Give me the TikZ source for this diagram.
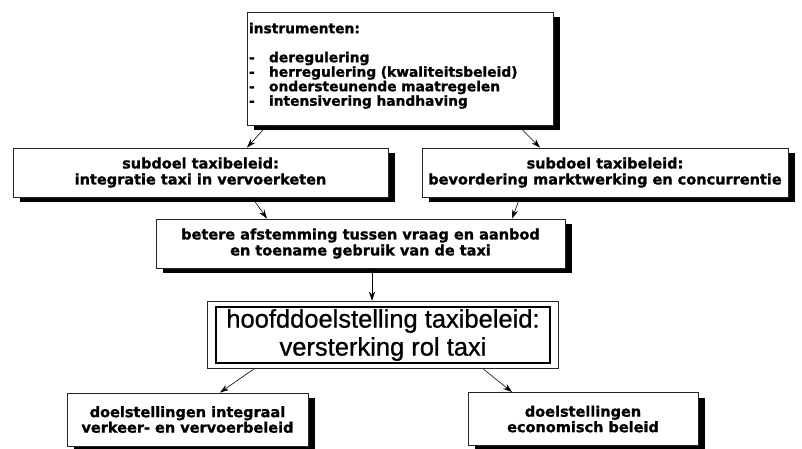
\documentclass[tikz,border=0pt]{standalone}
\usepackage{fontspec}
\setmainfont{DejaVu Sans}[BoldFeatures={FakeBold=1.2}]
\newfontfamily\kopfont{Liberation Sans}[FakeBold=0.8]
\usepackage{tikz}
\usetikzlibrary{arrows.meta, positioning, fit, calc, shadows}
\tikzset{
    shadowed/.style={drop shadow={shadow xshift=7pt, shadow yshift=-5pt,
                     fill=black, opacity=1}},
    ibox/.style={rectangle, draw=black!85, line width=0.9pt, fill=white,
                 shadowed, minimum width=306pt, minimum height=113pt,
                 text width=302pt, inner xsep=2pt, align=left,
                 font=\fontsize{13.8}{14.5}\selectfont\bfseries},
    sbox/.style={rectangle, draw=black!85, line width=0.9pt, fill=white,
                 shadowed, minimum height=49pt, inner sep=0pt, align=center,
                 font=\fontsize{14.5}{16}\selectfont\bfseries},
    kbox/.style={rectangle, draw=black, line width=1.6pt, fill=white,
                 minimum width=334pt, minimum height=56pt, inner sep=0pt,
                 align=center, font=\kopfont\fontsize{25.5}{28}\selectfont},
    dbox/.style={rectangle, draw=black!85, line width=0.9pt, fill=white,
                 shadowed, minimum height=53pt, inner sep=0pt, align=center,
                 font=\fontsize{14.5}{15.5}\selectfont\bfseries},
    arr/.style={-{Stealth[length=9pt, width=6pt]}, line width=0.6pt, draw=black}
}

\begin{document}
\begin{tikzpicture}[x=1pt, y=1pt]
\clip (0,0) rectangle (802,448);
\fill[white] (0,0) rectangle (802,448);

% -- Instrumenten --------------------------------------------------------
\node[ibox] at (400,379.5) (instr) {instrumenten:\\[14.5pt]
    \makebox[20pt][l]{-}deregulering\\
    \makebox[20pt][l]{-}herregulering (kwaliteitsbeleid)\\
    \makebox[20pt][l]{-}ondersteunende maatregelen\\
    \makebox[20pt][l]{-}intensivering handhaving\\[-6pt]\mbox{}};

% -- Subdoelen -----------------------------------------------------------
\node[sbox, minimum width=375pt] at (200.5,275.5) (subL)
    {subdoel taxibeleid:\\integratie taxi in vervoerketen};
\node[sbox, minimum width=366pt] at (605,275.5) (subR)
    {subdoel taxibeleid:\\bevordering marktwerking en concurrentie};

% -- Afstemming ----------------------------------------------------------
\node[sbox, minimum width=409pt] at (360.5,204.5) (beter)
    {betere afstemming tussen vraag en aanbod\\en toename gebruik van de taxi};

% -- Hoofddoelstelling ---------------------------------------------------
\node[kbox] at (383,113) (hoofdin)
    {hoofddoelstelling taxibeleid:\\versterking rol taxi};
\node[draw=black!85, line width=0.9pt, fit=(hoofdin), inner xsep=8pt,
      inner ysep=5pt] (hoofd) {};

% -- Doelstellingen ------------------------------------------------------
\node[dbox, minimum width=241pt] at (187.5,28.5) (doelL)
    {doelstellingen integraal\\verkeer- en vervoerbeleid};
\node[dbox, minimum width=230pt] at (583,29) (doelR)
    {doelstellingen\\economisch beleid};

% -- Pijlen --------------------------------------------------------------
\draw[arr] ($(instr.south)+(-133,0)$) -- ($(subL.north)+(46.5,0)$);
\draw[arr] ($(instr.south)+(118,0)$)  -- ($(subR.north)+(-65,0)$);

\draw[arr] ($(subL.south)+(51.5,0)$) -- ($(beter.north)+(-93.5,0)$);
\draw[arr] ($(subR.south)+(-85,0)$)  -- ($(beter.north)+(151.5,0)$);

\draw[arr] ($(beter.south)+(11.5,0)$) coordinate (b1) -- (b1 |- hoofd.north);

\draw[arr] ($(hoofd.south)+(-129.5,0)$) -- ($(doelL.north)+(32.5,0)$);
\draw[arr] ($(hoofd.south)+(100.5,0)$)  -- ($(doelR.north)+(-71,0)$);
\end{tikzpicture}
\end{document}
